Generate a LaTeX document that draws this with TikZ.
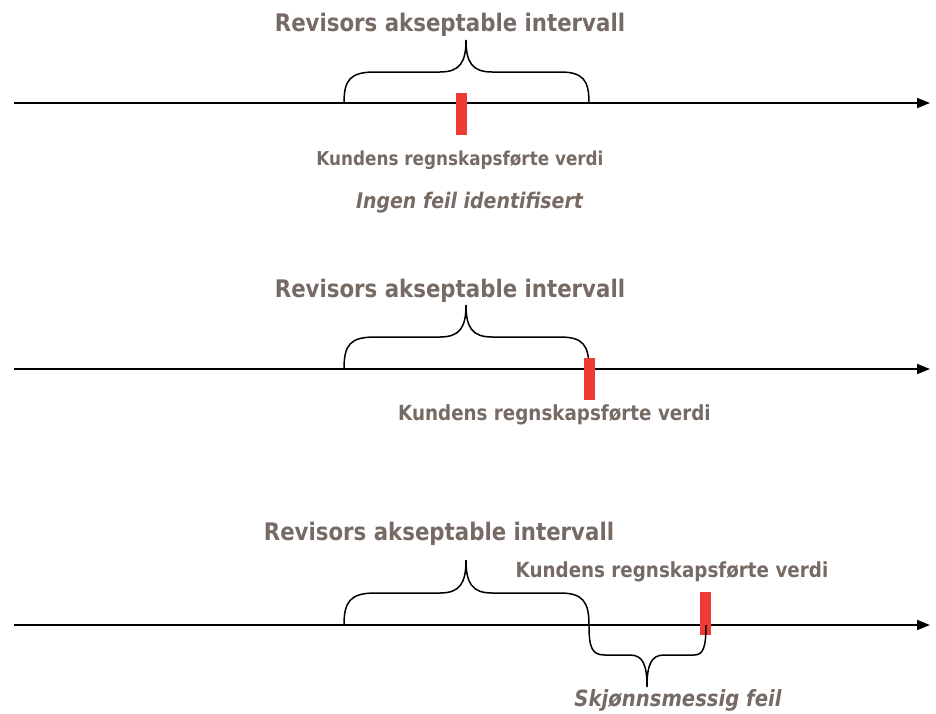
\documentclass[tikz,border=0pt]{standalone}
\usepackage{fontspec}
\setmainfont{DejaVu Sans}[FakeStretch=0.88]
\usetikzlibrary{arrows.meta}
\definecolor{txt}{RGB}{118,106,100}
\definecolor{mark}{RGB}{239,59,54}
\tikzset{
  axis/.style={line width=2pt,-{Triangle[length=13pt,width=10pt]}},
  brace/.style={line width=1.5pt},
  title/.style={text=txt,font=\fontsize{24.2}{26}\selectfont\bfseries,inner sep=0pt},
  label/.style={text=txt,font=\fontsize{20.8}{22}\selectfont\bfseries,inner sep=0pt},
  ital/.style={text=txt,font=\fontsize{22.3}{24}\selectfont\bfseries\itshape,inner sep=0pt},
  redbar/.style={fill=mark,draw=none,minimum width=11pt,inner sep=0pt}
}
\begin{document}
\begin{tikzpicture}[x=1pt,y=-1pt]
\useasboundingbox (0,0) rectangle (936,713);
% ---------- panel 1
\coordinate (a1s) at (14,103); \coordinate (a1e) at (930,103);
\draw[axis] (a1s) -- (a1e);
\coordinate (b1l) at (344,103); \coordinate (b1m) at (466,40); \coordinate (b1r) at (589,103);
\draw[brace] (b1l) .. controls (344,80) and (350,72) .. (375,72) -- (440,72)
  .. controls (460,72) and (466,62) .. (b1m)
  .. controls (466,62) and (472,72) .. (492,72) -- (560,72)
  .. controls (583,72) and (589,80) .. (b1r);
\node[redbar,minimum height=42pt] (r1) at (461,114) {};
\node[title] (t1) at (450,25) {Revisors akseptable intervall};
\node[label,font=\fontsize{19.1}{21}\selectfont\bfseries] (k1) at (460,160) {Kundens regnskapsførte verdi};
\node[ital,font=\fontsize{21.5}{23}\selectfont\bfseries\itshape] (i1) at (469.5,203) {Ingen feil identifisert};
% ---------- panel 2
\coordinate (a2s) at (14,369); \coordinate (a2e) at (930,369);
\draw[axis] (a2s) -- (a2e);
\coordinate (b2l) at (344,369); \coordinate (b2m) at (466,305); \coordinate (b2r) at (589,369);
\draw[brace] (b2l) .. controls (344,345) and (350,337) .. (375,337) -- (440,337)
  .. controls (460,337) and (466,327) .. (b2m)
  .. controls (466,327) and (472,337) .. (492,337) -- (560,337)
  .. controls (583,337) and (589,345) .. (b2r);
\node[redbar,minimum height=42pt] (r2) at (589,379) {};
\node[title] (t2) at (450,291) {Revisors akseptable intervall};
\node[label] (k2) at (554.5,415) {Kundens regnskapsførte verdi};
% ---------- panel 3
\coordinate (a3s) at (14,625); \coordinate (a3e) at (930,625);
\draw[axis] (a3s) -- (a3e);
\node[redbar,minimum height=43pt] (r3) at (705.5,613.5) {};
\coordinate (b3l) at (344,625); \coordinate (b3m) at (466,560); \coordinate (b3r) at (589,625);
\draw[brace] (b3l) .. controls (344,602) and (350,593) .. (375,593) -- (440,593)
  .. controls (460,593) and (466,583) .. (b3m)
  .. controls (466,583) and (472,593) .. (492,593) -- (560,593)
  .. controls (583,593) and (589,602) .. (b3r);
\coordinate (c3l) at (589,625); \coordinate (c3m) at (647,687); \coordinate (c3r) at (706,625);
\draw[brace] (c3l) .. controls (589,648) and (592,655) .. (605,655) -- (630,655)
  .. controls (643,655) and (647,665) .. (c3m)
  .. controls (647,665) and (651,655) .. (664,655) -- (694,655)
  .. controls (703,655) and (706,648) .. (c3r);
\node[title] (t3) at (439,534) {Revisors akseptable intervall};
\node[label] (k3) at (672,572) {Kundens regnskapsførte verdi};
\node[ital] (s3) at (678,700) {Skjønnsmessig feil};
\end{tikzpicture}
\end{document}
